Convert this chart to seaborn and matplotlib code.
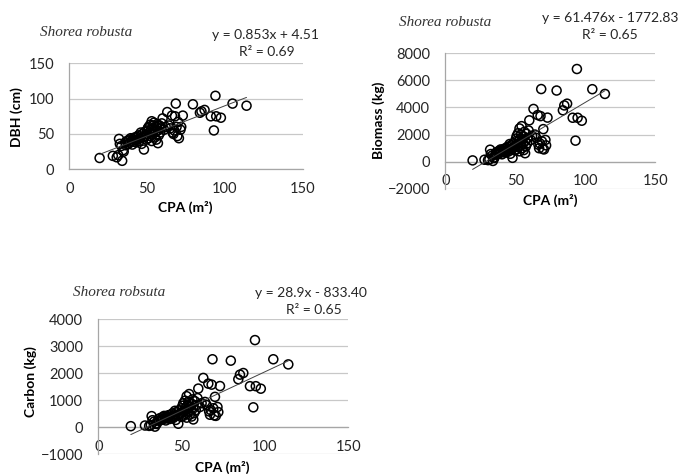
import numpy as np
import pandas as pd
import matplotlib
matplotlib.use("Agg")
import matplotlib.pyplot as plt
import seaborn as sns

# ---------------- data ----------------
cpa = [19.5, 28.0, 30.5, 31.5, 34.0, 32.0, 32.5, 34.5, 35.0, 33.5,
       36.0, 36.5, 37.0, 38.0, 38.5, 39.0, 39.5, 40.0, 40.5, 41.0,
       41.5, 42.0, 42.5, 43.0, 43.5, 44.0, 44.5, 45.0, 45.5, 46.0,
       46.5, 47.0, 47.5, 48.0, 48.5, 49.0, 49.5, 50.0, 50.0, 50.5,
       51.0, 51.0, 51.5, 52.0, 52.0, 52.5, 53.0, 53.0, 53.5, 54.0,
       54.0, 54.5, 55.0, 55.0, 55.5, 56.0, 56.0, 56.5, 57.0, 57.0,
       57.5, 58.0, 58.5, 59.0, 59.5, 60.0, 61.0, 62.0, 63.0, 64.0,
       65.0, 66.0, 66.5, 67.0, 67.5, 68.0, 68.5, 69.0, 69.5, 70.0,
       70.5, 71.5, 72.0, 73.0, 79.5, 84.0, 85.0, 87.0, 91.0, 93.0,
       94.0, 94.5, 97.5, 105.0, 114.0]
dbh = [16, 19, 17, 20, 12, 43, 36, 27, 25, 33,
       38, 34, 40, 36, 42, 38, 44, 40, 35, 43,
       39, 45, 41, 38, 46, 42, 48, 40, 44, 52,
       36, 50, 45, 28, 53, 47, 42, 55, 49, 58,
       44, 60, 52, 63, 47, 56, 68, 40, 58, 62,
       50, 66, 45, 57, 53, 60, 42, 64, 37, 55,
       48, 62, 52, 58, 65, 72, 56, 60, 81, 62,
       58, 76, 52, 50, 55, 75, 93, 60, 47, 67,
       44, 56, 60, 76, 92, 80, 82, 84, 75, 55,
       104, 75, 73, 93, 90]
biomass = [90, 140, 110, 160, 50, 880, 560, 300, 260, 450,
           640, 510, 720, 590, 800, 650, 900, 730, 540, 860,
           700, 950, 780, 660, 1000, 820, 1100, 740, 920, 1300,
           580, 1200, 960, 280, 1350, 1050, 830, 1500, 1150, 1700,
           900, 1900, 1300, 2100, 1060, 1550, 2450, 760, 1700, 2000,
           1250, 2620, 1000, 1650, 1400, 1850, 850, 2200, 620, 1500,
           1120, 2050, 1350, 1750, 2300, 3050, 1600, 1900, 3890, 2000,
           1750, 3440, 1250, 990, 1350, 3360, 5360, 1500, 940, 2400,
           900, 1600, 1200, 3250, 5250, 3790, 4150, 4280, 3240, 1550,
           6840, 3240, 3020, 5350, 5000]
carbon = [42, 66, 52, 75, 24, 414, 263, 141, 122, 212,
          300, 240, 338, 277, 376, 306, 423, 343, 254, 404,
          329, 447, 367, 310, 470, 385, 517, 348, 432, 611,
          273, 564, 451, 132, 635, 494, 390, 705, 541, 800,
          423, 893, 611, 987, 498, 729, 1152, 357, 799, 940,
          588, 1231, 470, 776, 658, 870, 400, 1034, 291, 705,
          526, 964, 635, 823, 1081, 1434, 752, 893, 1828, 940,
          823, 1617, 588, 465, 635, 1580, 2520, 705, 442, 1128,
          423, 752, 564, 1528, 2468, 1780, 1950, 2010, 1523, 740,
          3230, 1523, 1430, 2520, 2330]

titles = ["Shorea robusta", "Shorea robusta", "Shorea robsuta"]
equations = ["y = 0.853x + 4.51", "y = 61.476x - 1772.83", "y = 28.9x - 833.40"]
r2_texts = ["R\u00b2 = 0.69", "R\u00b2 = 0.65", "R\u00b2 = 0.65"]
slopes = [0.853, 61.476, 28.9]
intercepts = [4.51, -1772.83, -833.40]
y_labels = ["DBH (cm)", "Biomass (kg)", "Carbon (kg)"]
x_label = "CPA (m\u00b2)"
x_ticks = [0, 50, 100, 150]
y_ticks = [[0, 50, 100, 150],
           [-2000, 0, 2000, 4000, 6000, 8000],
           [-1000, 0, 1000, 2000, 3000, 4000]]

df = pd.DataFrame({"CPA": cpa, "DBH": dbh, "Biomass": biomass, "Carbon": carbon})
ycols = ["DBH", "Biomass", "Carbon"]

# ---------------- styling ----------------
sns.set_style("white")
plt.rcParams["font.family"] = ["Lato", "DejaVu Sans"]

W, H = 680, 475
fig = plt.figure(figsize=(W / 100, H / 100), dpi=100)

def frac_rect(x0, y0, x1, y1):
    return [x0 / W, 1 - y1 / H, (x1 - x0) / W, (y1 - y0) / H]

rects = [frac_rect(69.3, 63.3, 302.5, 169.3),
         frac_rect(445.3, 53.3, 655.3, 188.7),
         frac_rect(98.3, 319.3, 348.3, 454.3)]

# text positions (pixels): title, eq, r2, ylabel, xlabel
title_pos = [(40, 33), (399, 23), (73, 293)]
eq_pos = [(266, 35), (610, 18), (311, 293)]
r2_pos = [(267, 52), (610, 35), (314, 310)]
ylab_pos = [(17, 117), (379, 120), (31, 382)]
xlab_pos = [(185, 207), (550, 200), (222, 467)]

grid_c = "#c8c8c8"
axis_c = "#a6a6a6"
text_c = "#262626"

for i, ycol in enumerate(ycols):
    ax = fig.add_axes(rects[i])
    sns.scatterplot(data=df, x="CPA", y=ycol, ax=ax, s=42,
                    facecolor="none", edgecolor="black", linewidth=1.1,
                    zorder=3)
    xr = np.array([df["CPA"].min(), df["CPA"].max()])
    sns.lineplot(x=xr, y=slopes[i] * xr + intercepts[i], ax=ax,
                 color="#404040", linewidth=0.7, zorder=4)
    ax.set_xlim(x_ticks[0], x_ticks[-1])
    ax.set_ylim(y_ticks[i][0], y_ticks[i][-1])
    ax.set_xticks(x_ticks)
    ax.set_yticks(y_ticks[i])
    ax.grid(axis="y", color=grid_c, linewidth=0.9)
    ax.grid(axis="x", visible=False)
    ax.set_axisbelow(True)
    for s in ["top", "right"]:
        ax.spines[s].set_visible(False)
    ax.spines["left"].set_color(axis_c)
    ax.spines["bottom"].set_color(axis_c)
    ax.spines["left"].set_linewidth(0.9)
    ax.spines["bottom"].set_linewidth(0.9)
    ax.spines["bottom"].set_position(("data", 0))
    ax.tick_params(axis="x", length=4, width=0.9, color=axis_c, pad=5,
                   labelsize=10.5, labelcolor=text_c)
    ax.tick_params(axis="y", length=0, pad=11, labelsize=10.5, labelcolor=text_c)
    ax.set_xlabel("")
    ax.set_ylabel("")
    fig.text(title_pos[i][0] / W, 1 - title_pos[i][1] / H, titles[i],
             family="Liberation Serif", style="italic", fontsize=11,
             color="#333333", ha="left", va="center")
    fig.text(eq_pos[i][0] / W, 1 - eq_pos[i][1] / H, equations[i],
             fontsize=10, color=text_c, ha="center", va="center")
    fig.text(r2_pos[i][0] / W, 1 - r2_pos[i][1] / H, r2_texts[i],
             fontsize=10, color=text_c, ha="center", va="center")
    fig.text(ylab_pos[i][0] / W, 1 - ylab_pos[i][1] / H, y_labels[i],
             fontsize=10, fontweight="bold", color="black", rotation=90,
             ha="center", va="center")
    fig.text(xlab_pos[i][0] / W, 1 - xlab_pos[i][1] / H, x_label,
             fontsize=10, fontweight="bold", color="black",
             ha="center", va="center")

fig.savefig("out.png", dpi=100, facecolor="white")
